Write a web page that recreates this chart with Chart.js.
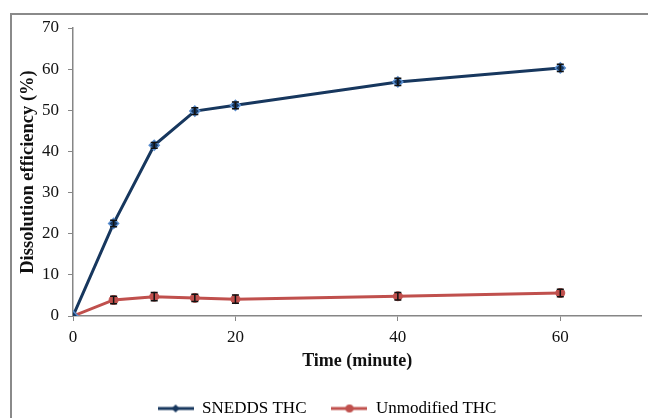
<!DOCTYPE html>
<html>
<head>
<meta charset="utf-8">
<script src="https://cdn.jsdelivr.net/npm/chart.js@4"></script>
<style>
  html, body { margin: 0; padding: 0; background: #fff; }
  #wrap { position: relative; width: 648px; height: 418px; overflow: hidden; }
  #frame { position: absolute; left: 10px; top: 13px; width: 700px; height: 500px;
           border-top: 2px solid #8a8a8a; border-left: 2px solid #8a8a8a; box-sizing: border-box; }
  #chart { position: absolute; left: 0; top: 0; }
</style>
</head>
<body>
<div id="wrap">
  <div id="frame"></div>
  <canvas id="chart" width="648" height="418"></canvas>
</div>
<script>
// ── Data ────────────────────────────────────────────────
const TIMES        = [0, 5, 10, 15, 20, 40, 60];
const SNEDDS       = [0, 22.5, 41.5, 49.8, 51.2, 56.9, 60.3];
const SNEDDS_ERR   = [0, 0.8, 0.7, 0.8, 0.8, 0.9, 0.9];
const UNMOD        = [0, 3.9, 4.7, 4.4, 4.1, 4.8, 5.6];
const UNMOD_ERR    = [0, 0.9, 1.0, 0.9, 1.0, 0.9, 0.9];
const X_TICKS      = [0, 20, 40, 60];

const NAVY = '#17375e';
const RED  = '#c0504d';
const AXIS = '#868686';
const SERIF = '"Liberation Serif", "Times New Roman", serif';

// legend marker: short line with the series marker in the middle
function legendIcon(color, shape) {
  const c = document.createElement('canvas');
  c.width = 36; c.height = 10;
  const g = c.getContext('2d');
  g.strokeStyle = color; g.lineWidth = 3;
  g.beginPath(); g.moveTo(0, 5); g.lineTo(36, 5); g.stroke();
  g.fillStyle = color;
  g.beginPath();
  if (shape === 'diamond') { g.moveTo(18, 1); g.lineTo(22, 5); g.lineTo(18, 9); g.lineTo(14, 5); g.closePath(); }
  else g.arc(18, 5, 4, 0, Math.PI * 2);
  g.fill();
  return c;
}

// error bars drawn through the scales
const errorBars = {
  id: 'errorBars',
  afterDatasetsDraw(chart) {
    const { ctx, scales: { x, y } } = chart;
    ctx.save();
    ctx.strokeStyle = '#111';
    ctx.lineWidth = 1.5;
    chart.data.datasets.forEach(ds => {
      ds.data.forEach((p, i) => {
        const e = ds.errors[i];
        if (!e) return;
        const px = x.getPixelForValue(p.x);
        const y1 = y.getPixelForValue(p.y - e), y2 = y.getPixelForValue(p.y + e);
        ctx.beginPath();
        ctx.moveTo(px, y1); ctx.lineTo(px, y2);
        ctx.moveTo(px - 3.5, y1); ctx.lineTo(px + 3.5, y1);
        ctx.moveTo(px - 3.5, y2); ctx.lineTo(px + 3.5, y2);
        ctx.stroke();
      });
    });
    ctx.restore();
  },
};

new Chart(document.getElementById('chart'), {
  type: 'line',
  data: {
    datasets: [
      {
        label: 'SNEDDS THC',
        data: TIMES.map((t, i) => ({ x: t, y: SNEDDS[i] })),
        errors: SNEDDS_ERR,
        borderColor: NAVY, borderWidth: 3,
        pointStyle: 'rectRot', pointRadius: 5,
        pointBackgroundColor: NAVY, pointBorderColor: '#5b8fd0', pointBorderWidth: 1.5,
        legendIcon: legendIcon(NAVY, 'diamond'),
      },
      {
        label: 'Unmodified THC',
        data: TIMES.map((t, i) => ({ x: t, y: UNMOD[i] })),
        errors: UNMOD_ERR,
        borderColor: RED, borderWidth: 3,
        pointStyle: 'circle', pointRadius: 4.5,
        pointBackgroundColor: RED, pointBorderColor: RED, pointBorderWidth: 1,
        legendIcon: legendIcon(RED, 'circle'),
      },
    ],
  },
  options: {
    responsive: false, animation: false,
    layout: { padding: { left: 12, top: 28, right: 6, bottom: -9 } },
    plugins: {
      tooltip: { enabled: false },
      legend: {
        position: 'bottom',
        labels: {
          usePointStyle: true, pointStyleWidth: 36, boxHeight: 10, padding: 25,
          color: '#111', font: { family: SERIF, size: 17 },
          generateLabels: chart => chart.data.datasets.map((ds, i) => ({
            text: ds.label, datasetIndex: i, pointStyle: ds.legendIcon,
            fillStyle: ds.borderColor, strokeStyle: ds.borderColor, lineWidth: 0, hidden: false,
          })),
        },
      },
    },
    scales: {
      x: {
        type: 'linear', min: 0, max: 70,
        afterBuildTicks: s => { s.ticks = X_TICKS.map(v => ({ value: v })); },
        border: { color: AXIS, width: 1.5 },
        grid: { display: true, drawOnChartArea: false, color: AXIS, tickLength: 5 },
        ticks: { color: '#111', padding: 6, font: { family: SERIF, size: 17 } },
        title: { display: true, text: 'Time (minute)', color: '#111', padding: { top: -3, bottom: 3 },
                 font: { family: SERIF, size: 18, weight: 'bold' } },
      },
      y: {
        min: 0, max: 70,
        afterFit: s => { s.width = 61; },
        border: { color: AXIS, width: 1.5 },
        grid: { display: true, drawOnChartArea: false, color: AXIS, tickLength: 5 },
        ticks: { stepSize: 10, color: '#111', padding: 9, font: { family: SERIF, size: 17 } },
        title: { display: true, text: 'Dissolution efficiency (%)', color: '#111', padding: { top: 5, bottom: 0 },
                 font: { family: SERIF, size: 18.5, weight: 'bold' } },
      },
    },
  },
  plugins: [errorBars],
});
</script>
</body>
</html>
